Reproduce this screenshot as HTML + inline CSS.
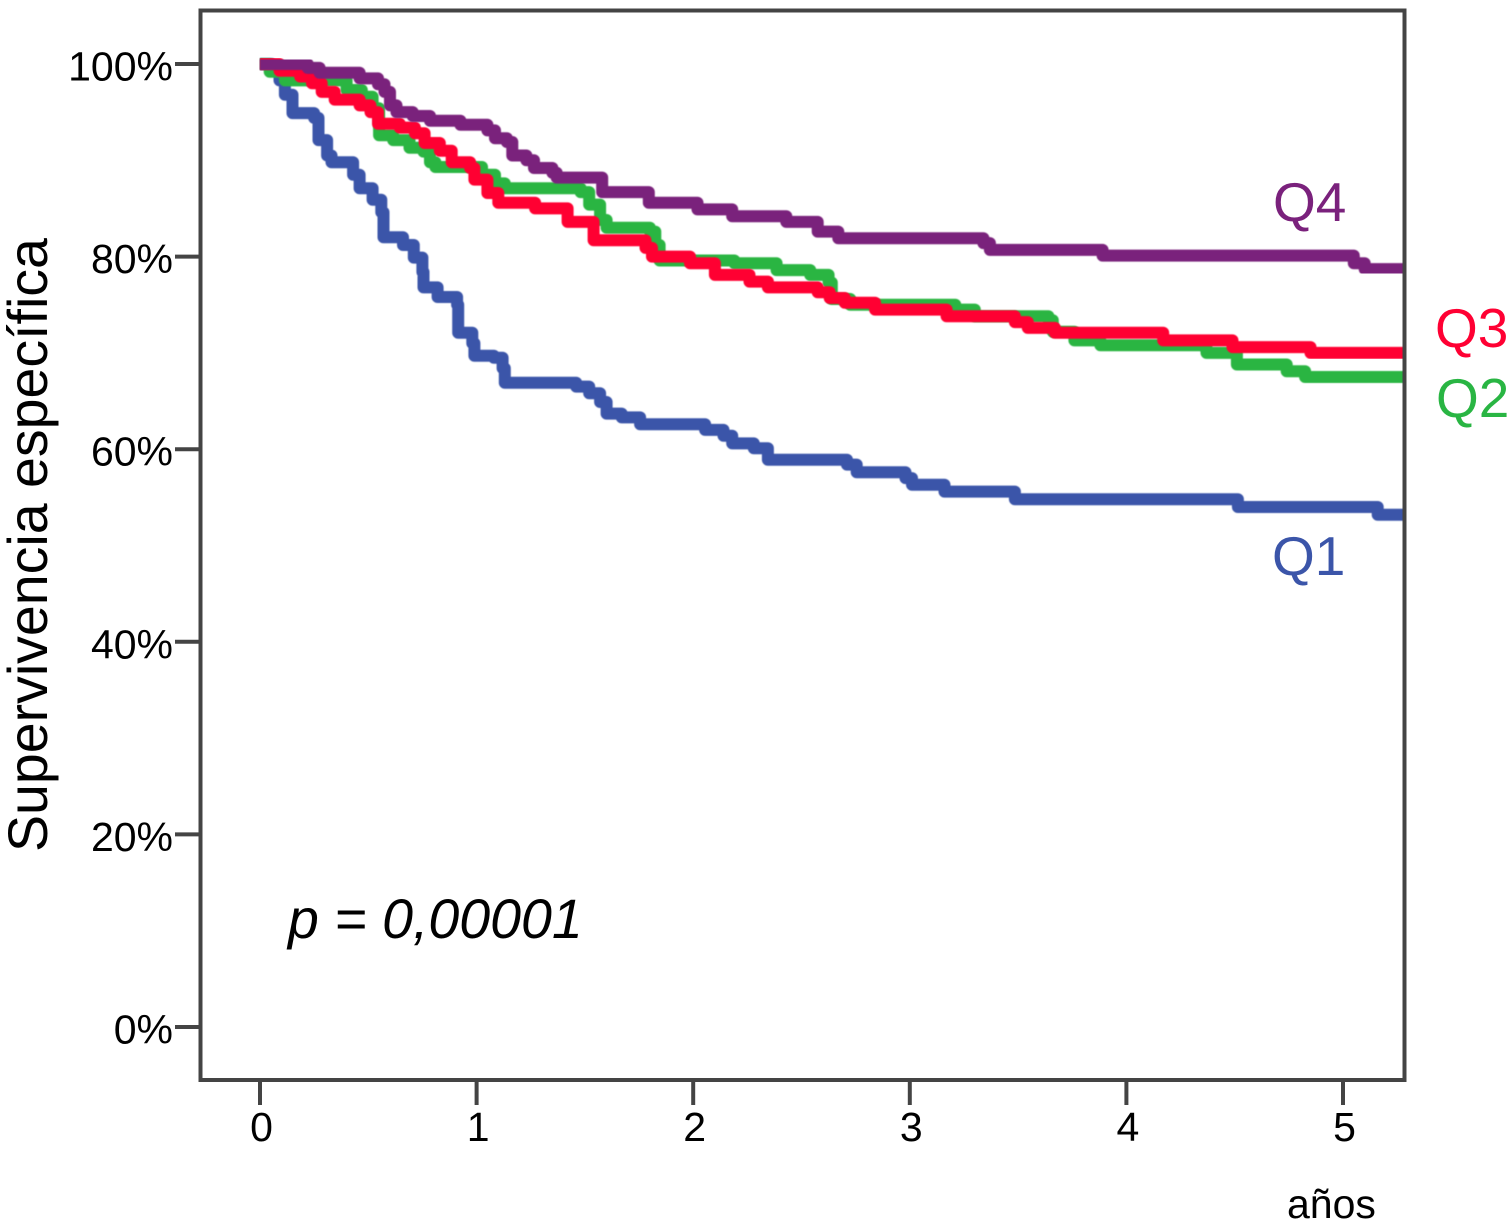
<!DOCTYPE html>
<html lang="es">
<head>
<meta charset="utf-8">
<title>Supervivencia específica</title>
<style>
html,body{margin:0;padding:0;background:#fff;width:1510px;height:1228px;overflow:hidden}
svg{display:block;font-family:"Liberation Sans",Arial,sans-serif}
</style>
</head>
<body>
<svg id="chart" xmlns="http://www.w3.org/2000/svg" width="1510" height="1228" viewBox="0 0 1510 1228">
<defs><filter id="soft" x="-2%" y="-2%" width="104%" height="104%"><feGaussianBlur stdDeviation="0.6"/></filter></defs>
</svg>
<script>
const yTicks = [0, 20, 40, 60, 80, 100];
const xTicks = [0, 1, 2, 3, 4, 5];
const endTime = 5.28;

const q1Time = [0,.055,.09,.115,.15,.25,.27,.31,.33,.43,.46,.52,.56,.57,.66,.71,.75,.755,.82,.91,.915,.98,.99,1.08,1.12,1.13,1.46,1.52,1.57,1.60,1.67,1.755,2.055,2.14,2.18,2.28,2.345,2.71,2.755,2.98,3.01,3.16,3.485,4.515,5.16];
const q1Surv = [100,99.6,98.3,96.8,94.9,94.4,92.1,90.5,89.8,88.5,87.1,85.9,84.6,82.0,81.2,79.9,78.4,76.8,75.8,75.0,72.1,71.0,69.7,69.5,68.4,66.9,66.5,65.8,64.9,63.7,63.3,62.6,62.0,61.4,60.6,60.1,58.9,58.4,57.6,57.0,56.3,55.6,54.8,54.0,53.2];

const q2Time = [0,.045,.115,.40,.47,.52,.55,.615,.69,.755,.785,.81,1.025,1.085,1.13,1.48,1.52,1.57,1.60,1.80,1.825,1.845,2.19,2.385,2.54,2.625,2.64,2.725,3.21,3.30,3.64,3.66,3.76,3.88,4.36,4.37,4.51,4.74,4.825];
const q2Surv = [100,99.2,98.3,97.3,96.6,95.4,92.6,92.1,91.3,90.9,89.8,89.3,88.5,87.6,87.1,86.7,85.4,83.8,83.0,82.6,81.2,79.6,79.3,78.6,78.1,77.3,75.6,75.0,74.5,73.8,73.4,72.2,71.3,70.8,70.6,70.0,68.8,68.1,67.5];

const q3Time = [0,.09,.185,.24,.285,.345,.46,.51,.545,.645,.715,.76,.83,.885,.97,.99,1.05,1.10,1.27,1.42,1.54,1.78,1.81,1.985,2.10,2.26,2.345,2.575,2.63,2.70,2.84,3.17,3.485,3.545,3.67,4.17,4.49,4.85];
const q3Surv = [100,99.3,98.7,98.0,97.1,96.3,95.7,95.0,93.8,93.4,92.8,91.8,91.0,89.8,89.2,88.0,86.6,85.6,85.0,83.6,81.7,80.9,80.0,79.3,78.1,77.4,76.8,76.3,75.7,75.2,74.5,73.8,73.2,72.6,72.1,71.3,70.6,70.0];

const q4Time = [0,.22,.275,.46,.545,.575,.60,.63,.705,.785,.925,1.05,1.085,1.14,1.165,1.23,1.265,1.35,1.37,1.58,1.795,2.02,2.18,2.43,2.575,2.67,3.34,3.37,3.89,5.05,5.10];
const q4Surv = [100,99.6,99.1,98.5,97.9,97.1,95.7,95.0,94.6,94.1,93.7,93.1,92.3,91.9,90.5,90.0,89.2,88.7,88.2,86.7,85.6,84.9,84.2,83.6,82.6,81.9,81.4,80.7,80.1,79.3,78.7];

const NS = 'http://www.w3.org/2000/svg';
const svg = document.getElementById('chart');

function sx(t) { return 260 + t * 216.6; }
function sy(v) { return 1027 - v * 9.63; }

function stepPath(times, values) {
  let d = 'M' + sx(times[0]).toFixed(1) + ' ' + sy(values[0]).toFixed(1);
  for (let i = 1; i < times.length; i++) {
    d += 'H' + sx(times[i]).toFixed(1) + 'V' + sy(values[i]).toFixed(1);
  }
  return d + 'H' + sx(endTime).toFixed(1);
}

function drawCurve(times, values, color, name) {
  const p = document.createElementNS(NS, 'path');
  p.setAttribute('d', stepPath(times, values));
  p.setAttribute('fill', 'none');
  p.setAttribute('stroke', color);
  p.setAttribute('stroke-width', '12');
  p.setAttribute('stroke-linejoin', 'round');
  p.setAttribute('filter', 'url(#soft)');
  
  
  svg.appendChild(p);
}

drawCurve(q1Time, q1Surv, '#3b55a9', 'curve-q1');
drawCurve(q2Time, q2Surv, '#29b543', 'curve-q2');
drawCurve(q3Time, q3Surv, '#ff0033', 'curve-q3');
drawCurve(q4Time, q4Surv, '#7a217c', 'curve-q4');

const frame = document.createElementNS(NS, 'rect');
frame.setAttribute('x', '200.5');
frame.setAttribute('y', '10.5');
frame.setAttribute('width', '1204');
frame.setAttribute('height', '1069.5');
frame.setAttribute('fill', 'none');
frame.setAttribute('stroke', '#444');
frame.setAttribute('stroke-width', '4');


svg.appendChild(frame);

yTicks.forEach(function (v) {
  const line = document.createElementNS(NS, 'line');
  line.setAttribute('x1', '175');
  line.setAttribute('x2', '200');
  line.setAttribute('y1', sy(v));
  line.setAttribute('y2', sy(v));
  line.setAttribute('stroke', '#444');
  line.setAttribute('stroke-width', '4');
  
  
  svg.appendChild(line);
  const label = document.createElementNS(NS, 'text');
  label.setAttribute('x', '173');
  label.setAttribute('y', sy(v) + 16.5);
  label.setAttribute('text-anchor', 'end');
  label.setAttribute('font-size', '41');
  label.setAttribute('fill', '#000');
  label.textContent = v + '%';
  
  
  svg.appendChild(label);
});

xTicks.forEach(function (t) {
  const line = document.createElementNS(NS, 'line');
  line.setAttribute('x1', sx(t));
  line.setAttribute('x2', sx(t));
  line.setAttribute('y1', '1080');
  line.setAttribute('y2', '1105');
  line.setAttribute('stroke', '#444');
  line.setAttribute('stroke-width', '4');
  
  
  svg.appendChild(line);
  const label = document.createElementNS(NS, 'text');
  label.setAttribute('x', sx(t) + 1.5);
  label.setAttribute('y', '1141');
  label.setAttribute('text-anchor', 'middle');
  label.setAttribute('font-size', '41');
  label.setAttribute('fill', '#000');
  label.textContent = String(t);
  
  
  svg.appendChild(label);
});
</script>
<script>
const chartSvg = document.getElementById('chart');
chartSvg.insertAdjacentHTML('beforeend',
  '<text transform="translate(47,852) rotate(-90)" font-size="55.5" fill="#000">Supervivencia específica</text>' +
  '<text x="1287" y="1218" font-size="41" fill="#000">años</text>' +
  '<text x="288" y="938" font-size="55.5" font-style="italic" fill="#000">p = 0,00001</text>' +
  '<text x="1273" y="221" font-size="55" fill="#7a217c">Q4</text>' +
  '<text x="1435" y="347" font-size="55" fill="#ff0033">Q3</text>' +
  '<text x="1436" y="417" font-size="55" fill="#29b543">Q2</text>' +
  '<text x="1272" y="575" font-size="55" fill="#3b55a9">Q1</text>');
</script>
</body>
</html>
